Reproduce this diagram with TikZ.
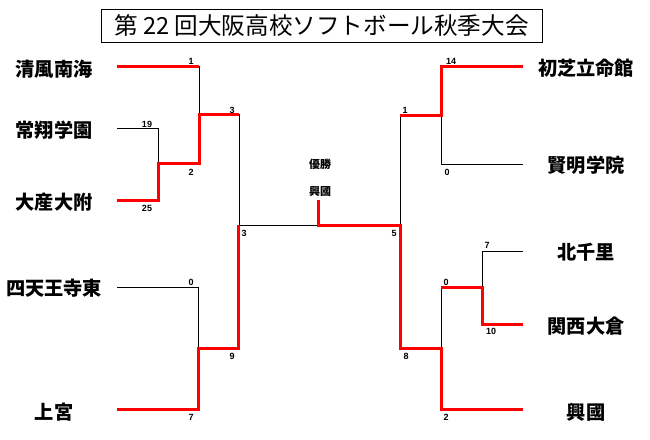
\documentclass[tikz,border=0pt]{standalone}
\usepackage{fontspec}
\usepackage{tikz}
\setmainfont{Liberation Sans}
\newfontfamily\jp{Noto Sans CJK JP}
\definecolor{winred}{RGB}{255,0,0}
\tikzset{
	win/.style={color=winred, line width=3pt, line join=miter},
	lose/.style={color=black, line width=0.8pt},
	team/.style={font=\jp\bfseries\fontsize{19.2}{19}\selectfont, inner sep=0pt},
	score/.style={font=\bfseries\fontsize{9}{9}\selectfont, inner sep=0pt},
}

\begin{document}
\begin{tikzpicture}[x=1pt, y=-1pt]
			\useasboundingbox (0,0) rectangle (650,439);

			\node [draw, line width=0.9pt, minimum width=441pt, minimum height=33pt, inner sep=0pt, font=\jp\fontsize{23.6}{24}\selectfont] (title) at (321.5,25.5) {第 22 回大阪高校ソフトボール秋季大会};

			\coordinate (a1) at (117,66);
			\coordinate (k1) at (199,66);
			\coordinate (a2) at (117,128);
			\coordinate (k2) at (158,128);
			\coordinate (a3) at (117,200);
			\coordinate (k3) at (158,200);
			\coordinate (m23) at (158,163);
			\coordinate (m23r) at (199,163);
			\coordinate (mA) at (199,114);
			\coordinate (mAr) at (239,114);
			\coordinate (a4) at (117,287);
			\coordinate (k4) at (198,287);
			\coordinate (a5) at (117,409);
			\coordinate (k5) at (198,409);
			\coordinate (m45) at (198,348);
			\coordinate (m45r) at (238,348);
			\coordinate (cL) at (238,225);
			\coordinate (cLt) at (239,225);
			\coordinate (cC) at (318,225);
			\coordinate (cT) at (318,200);
			\coordinate (cR) at (400,225);

			\coordinate (b1) at (523,66);
			\coordinate (h1) at (441,66);
			\coordinate (b2) at (523,164);
			\coordinate (h2) at (441,164);
			\coordinate (mB) at (441,115);
			\coordinate (mBl) at (400,115);
			\coordinate (b3) at (523,251);
			\coordinate (h3) at (482,251);
			\coordinate (b4) at (523,324);
			\coordinate (h4) at (482,324);
			\coordinate (m34) at (482,287);
			\coordinate (m34l) at (441,287);
			\coordinate (b5) at (523,409);
			\coordinate (h5) at (441,409);
			\coordinate (m35) at (441,348);
			\coordinate (m35l) at (400,348);

			\node [team] (t1) at (54,69) {清風南海};
			\node [team] (t2) at (54,130) {常翔学園};
			\node [team] (t3) at (54,202) {大産大附};
			\node [team] (t4) at (54,288) {四天王寺東};
			\node [team] (t5) at (54,412) {上宮};

			\node [team] (u1) at (586,68) {初芝立命館};
			\node [team] (u2) at (586,165) {賢明学院};
			\node [team] (u3) at (586,252) {北千里};
			\node [team] (u4) at (586,326) {関西大倉};
			\node [team] (u5) at (586,412) {興國};

			\node [font=\jp\bfseries\fontsize{11}{11}\selectfont] (yusho) at (320,164) {優勝};
			\node [font=\jp\bfseries\fontsize{11}{11}\selectfont] (champ) at (320,191) {興國};

			\draw [lose] (k1) -- (m23r);
			\draw [lose] (a2) -- (k2) -- (m23);
			\draw [lose] (mAr) -- (cLt) -- (cC);
			\draw [lose] (a4) -- (k4) -- (m45);
			\draw [lose] (mBl) -- (cR);
			\draw [lose] (b2) -- (h2) -- (mB);
			\draw [lose] (b3) -- (h3) -- (m34);
			\draw [lose] (m35) -- (m34l);

			\draw [win] (a1) -- (k1);
			\draw [win] (a3) -- (k3) -- (m23) -- (m23r) -- (mA) -- (mAr);
			\draw [win] (a5) -- (k5) -- (m45) -- (m45r) -- (cL);
			\draw [win] (cT) -- (cC) -- (cR) -- (m35l) -- (m35) -- (h5) -- (b5);
			\draw [win] (b1) -- (h1) -- (mB) -- (mBl);
			\draw [win] (b4) -- (h4) -- (m34) -- (m34l);

			\node [score] (s1) at (191,61) {1};
			\node [score] (s2) at (147,124) {19};
			\node [score] (s3) at (147,208) {25};
			\node [score] (s4) at (191,172) {2};
			\node [score] (s5) at (232,110) {3};
			\node [score] (s6) at (191,282) {0};
			\node [score] (s7) at (191,417) {7};
			\node [score] (s8) at (232,356) {9};
			\node [score] (s9) at (244,233) {3};

			\node [score] (r1) at (451,61) {14};
			\node [score] (r2) at (405,110) {1};
			\node [score] (r3) at (447,172) {0};
			\node [score] (r4) at (394,233) {5};
			\node [score] (r5) at (406,356) {8};
			\node [score] (r6) at (446,282) {0};
			\node [score] (r7) at (487,245) {7};
			\node [score] (r8) at (491,331) {10};
			\node [score] (r9) at (446,417) {2};

		\end{tikzpicture}
\end{document}
